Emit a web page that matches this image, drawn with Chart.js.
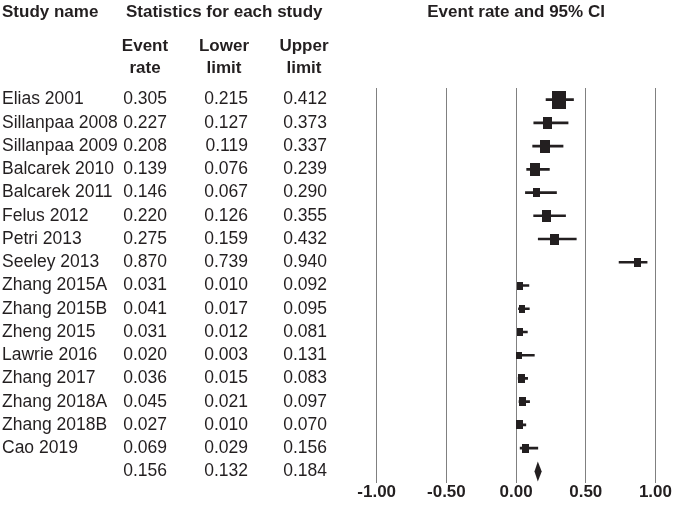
<!DOCTYPE html>
<html>
<head>
<meta charset="utf-8">
<script src="https://cdn.jsdelivr.net/npm/chart.js@4"></script>
<style>
  html, body { margin: 0; padding: 0; background: #fff; }
  #wrap { width: 673px; height: 506px; }
</style>
</head>
<body>
<div id="wrap"><canvas id="chart" width="673" height="506"></canvas></div>
<script>
// ===== DATA =====
const studies = ['Elias 2001', 'Sillanpaa 2008', 'Sillanpaa 2009', 'Balcarek 2010', 'Balcarek 2011',
  'Felus 2012', 'Petri 2013', 'Seeley 2013', 'Zhang 2015A', 'Zhang 2015B', 'Zheng 2015',
  'Lawrie 2016', 'Zhang 2017', 'Zhang 2018A', 'Zhang 2018B', 'Cao 2019'];
const eventRate  = [0.305, 0.227, 0.208, 0.139, 0.146, 0.220, 0.275, 0.870, 0.031, 0.041, 0.031, 0.020, 0.036, 0.045, 0.027, 0.069];
const lowerLimit = [0.215, 0.127, 0.119, 0.076, 0.067, 0.126, 0.159, 0.739, 0.010, 0.017, 0.012, 0.003, 0.015, 0.021, 0.010, 0.029];
const upperLimit = [0.412, 0.373, 0.337, 0.239, 0.290, 0.355, 0.432, 0.940, 0.092, 0.095, 0.081, 0.131, 0.083, 0.097, 0.070, 0.156];
// relative weight (%)
const weights    = [18.2, 7.5, 9.3, 9.3, 4.9, 8.0, 7.1, 4.2, 3.7, 3.7, 3.7, 3.0, 4.5, 4.5, 4.2, 4.2];
// pooled estimate
const pooledRate = 0.156;
const pooledLower = 0.132;
const pooledUpper = 0.184;
const xTicks = [-1, -0.5, 0, 0.5, 1];

// ===== STYLE =====
const FONT = "'Liberation Sans', Arial, sans-serif";
const INK = '#231f20';

// rows: one per study + pooled row at the end
const rows = studies.map((_, i) => i + 1).concat([studies.length + 1]);
const pooledRow = studies.length + 1;

const colName = studies.concat(['']);
const colRate = eventRate.concat([pooledRate]).map(v => v.toFixed(3));
const colLow = lowerLimit.concat([pooledLower]).map(v => v.toFixed(3));
const colUp = upperLimit.concat([pooledUpper]).map(v => v.toFixed(3));

// box marker, area ~ weight, a bit taller than wide like the original
function makeBox(w) {
  const side = Math.sqrt(w) * 3.3;
  const c = document.createElement('canvas');
  c.width = Math.round(side);
  c.height = Math.round(side * 1.3);
  const g = c.getContext('2d');
  g.fillStyle = INK;
  g.fillRect(0, 0, c.width, c.height);
  return c;
}
const boxes = weights.map(makeBox);

// one table column = one left y axis (labels right-aligned on its right edge,
// except the study names which are left-aligned)
function tableAxis(weight, width, align, texts) {
  return {
    type: 'linear',
    position: 'left',
    weight: weight,
    offset: false,
    min: 0.5,
    max: rows.length + 0.5,
    reverse: true,
    grid: { display: false, drawTicks: false, offset: false },
    border: { display: false },
    afterBuildTicks: s => { s.ticks = rows.map(v => ({ value: v })); },
    afterFit: s => { s.width = width; },
    ticks: {
      display: texts !== null,
      autoSkip: false,
      padding: 0,
      crossAlign: align,
      color: INK,
      font: { family: FONT, size: 17.5, lineHeight: 1 },
      callback: v => texts ? (texts[v - 1] ?? '') : ''
    }
  };
}

// ===== PLUGINS =====
const diamondPlugin = {
  id: 'diamond',
  afterDatasetsDraw(chart) {
    const x = chart.scales.x, y = chart.scales.y;
    const ctx = chart.ctx;
    const yc = y.getPixelForValue(pooledRow);
    const h = 10;
    ctx.save();
    ctx.fillStyle = INK;
    ctx.beginPath();
    ctx.moveTo(x.getPixelForValue(pooledLower), yc);
    ctx.lineTo(x.getPixelForValue(pooledRate), yc - h);
    ctx.lineTo(x.getPixelForValue(pooledUpper), yc);
    ctx.lineTo(x.getPixelForValue(pooledRate), yc + h);
    ctx.closePath();
    ctx.fill();
    ctx.restore();
  }
};

const headerPlugin = {
  id: 'headers',
  afterDraw(chart) {
    const ctx = chart.ctx;
    const x = chart.scales.x;
    ctx.save();
    ctx.fillStyle = INK;
    ctx.font = 'bold 17px ' + FONT;
    ctx.textBaseline = 'alphabetic';

    ctx.textAlign = 'left';
    ctx.fillText('Study name', 2, 17);
    ctx.fillText('Statistics for each study', 126, 17);

    ctx.textAlign = 'center';
    ctx.fillText('Event rate and 95% CI', (x.left + x.right) / 2, 17);

    const heads = [['Event', 'rate', 145], ['Lower', 'limit', 224], ['Upper', 'limit', 304]];
    heads.forEach(h => {
      ctx.fillText(h[0], h[2], 51);
      ctx.fillText(h[1], h[2], 73);
    });
    ctx.restore();
  }
};

// ===== CHART =====
document.addEventListener('DOMContentLoaded', () => {
  const ctx = document.getElementById('chart').getContext('2d');

  new Chart(ctx, {
    type: 'bar',
    data: {
      datasets: [
        {
          type: 'scatter',
          label: 'Event rate',
          data: eventRate.map((v, i) => ({ x: v, y: rows[i] })),
          pointStyle: c => boxes[c.dataIndex],
          pointRadius: 6,
          xAxisID: 'x',
          yAxisID: 'y'
        },
        {
          type: 'bar',
          label: '95% CI',
          indexAxis: 'y',
          data: lowerLimit.map((v, i) => ({ y: rows[i], x: [v, upperLimit[i]] })),
          backgroundColor: INK,
          borderWidth: 0,
          barThickness: 2,
          xAxisID: 'x',
          yAxisID: 'y'
        }
      ]
    },
    options: {
      indexAxis: 'y',
      responsive: false,
      animation: false,
      layout: { padding: { top: 88, left: 2, right: 17, bottom: 0 } },
      plugins: {
        legend: { display: false },
        tooltip: { enabled: false }
      },
      scales: {
        x: {
          type: 'linear',
          position: 'bottom',
          min: -1,
          max: 1,
          afterBuildTicks: s => { s.ticks = xTicks.map(v => ({ value: v })); },
          afterFit: s => { s.height = 23; },
          grid: { color: '#808080', lineWidth: 1, drawTicks: false },
          border: { display: false },
          ticks: {
            padding: 1,
            maxRotation: 0,
            color: INK,
            font: { family: FONT, size: 17, weight: 'bold', lineHeight: 1 },
            callback: v => v.toFixed(2)
          }
        },
        y: {
          type: 'linear',
          display: false,
          offset: false,
          grid: { offset: false },
          min: 0.5,
          max: rows.length + 0.5,
          reverse: true
        },
        colName: tableAxis(5, 120, 'far', colName),
        colRate: tableAxis(4, 45, 'near', colRate),
        colLow: tableAxis(3, 81, 'near', colLow),
        colUp: tableAxis(2, 79, 'near', colUp),
        gap: tableAxis(1, 49.7, 'near', null)
      }
    },
    plugins: [diamondPlugin, headerPlugin]
  });
});
</script>
</body>
</html>
